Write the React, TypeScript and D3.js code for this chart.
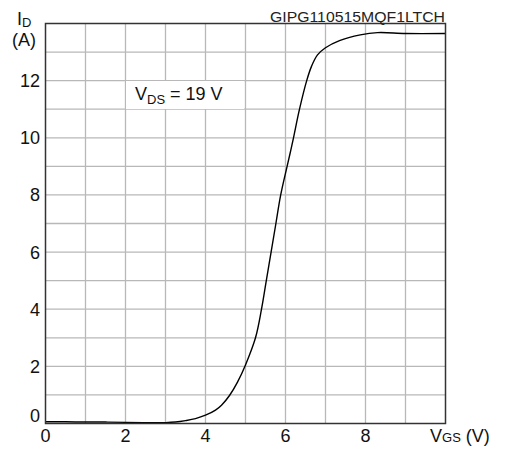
import * as d3 from 'd3';

// transfer characteristic
const vgs = [0, 0.5, 1, 1.5, 2, 2.5, 3, 3.25, 3.5, 3.75, 4, 4.25, 4.4, 4.6, 4.8, 5, 5.25, 5.4, 5.52, 5.64, 5.76, 5.88, 6.04, 6.13, 6.2, 6.35, 6.53, 6.65, 6.8, 7, 7.35, 7.87, 8.3, 9, 10];
const id = [0.06, 0.06, 0.05, 0.05, 0.04, 0.03, 0.03, 0.05, 0.1, 0.17, 0.29, 0.47, 0.64, 0.98, 1.45, 2.05, 3, 4, 5, 6, 7, 8, 9, 9.55, 10, 11, 12, 12.5, 12.9, 13.15, 13.4, 13.6, 13.68, 13.65, 13.65];

const xTicks = [0, 2, 4, 6, 8];
const yTicks = [0, 2, 4, 6, 8, 10, 12];

export default function App() {
  const width = 512,
    height = 450,
    left = 45.5,
    right = 445.5,
    top = 23.5,
    bottom = 423.5;

  const x = d3.scaleLinear().domain([0, 10]).range([left, right]);
  const y = d3.scaleLinear().domain([0, 14]).range([bottom, top]);

  const pts: [number, number][] = vgs.map((v, i) => [v, id[i]]);
  const line = d3
    .line<[number, number]>()
    .x((d) => x(d[0]))
    .y((d) => y(d[1]))
    .curve(d3.curveCatmullRom.alpha(0.5));

  const font = 'Liberation Sans, Arial, sans-serif';

  return (
    <svg
      width={width}
      height={height}
      style={{ position: 'absolute', left: 0, top: 0, background: '#fff' }}
      fontFamily={font}
    >
      {/* grid */}
      {d3.range(1, 10).map((v) => (
        <line key={'gx' + v} x1={x(v)} x2={x(v)} y1={top} y2={bottom} stroke="#b8b8b8" strokeWidth={1.3} />
      ))}
      {d3.range(1, 14).map((v) => (
        <line key={'gy' + v} x1={left} x2={right} y1={y(v)} y2={y(v)} stroke="#b8b8b8" strokeWidth={1.3} />
      ))}

      {/* V_DS label box */}
      <rect x={126} y={81} width={118} height={28} fill="#fff" />
      <text x={135} y={100} fontSize={18} fill="#111">
        V<tspan fontSize={13} dy={4}>DS</tspan>
        <tspan dy={-4}> = 19 V</tspan>
      </text>

      <path d={line(pts) ?? ''} fill="none" stroke="#000" strokeWidth={1.4} />

      {/* frame */}
      <rect x={left} y={top} width={right - left} height={bottom - top} fill="none" stroke="#333" strokeWidth={1.5} />

      {/* ticks */}
      {xTicks.map((t) => (
        <text key={'xt' + t} x={x(t)} y={442} fontSize={18} textAnchor="middle" fill="#111">
          {t}
        </text>
      ))}
      {yTicks.map((t) => (
        <text
          key={'yt' + t}
          x={40}
          y={t === 0 ? y(t) - 2 : y(t) + 6.5}
          fontSize={18}
          textAnchor="end"
          fill="#111"
        >
          {t}
        </text>
      ))}

      {/* axis titles */}
      <text x={17} y={25} fontSize={18} fill="#111">
        I<tspan fontSize={13} dy={2}>D</tspan>
      </text>
      <text x={12} y={46} fontSize={18} fill="#111">
        (A)
      </text>
      <text x={430} y={442} fontSize={18} fill="#111">
        V<tspan fontSize={13}>GS</tspan> (V)
      </text>

      <text
        x={445}
        y={22}
        fontSize={15}
        textAnchor="end"
        fill="#222"
        textLength={175}
        lengthAdjust="spacingAndGlyphs"
      >
        GIPG110515MQF1LTCH
      </text>
    </svg>
  );
}
